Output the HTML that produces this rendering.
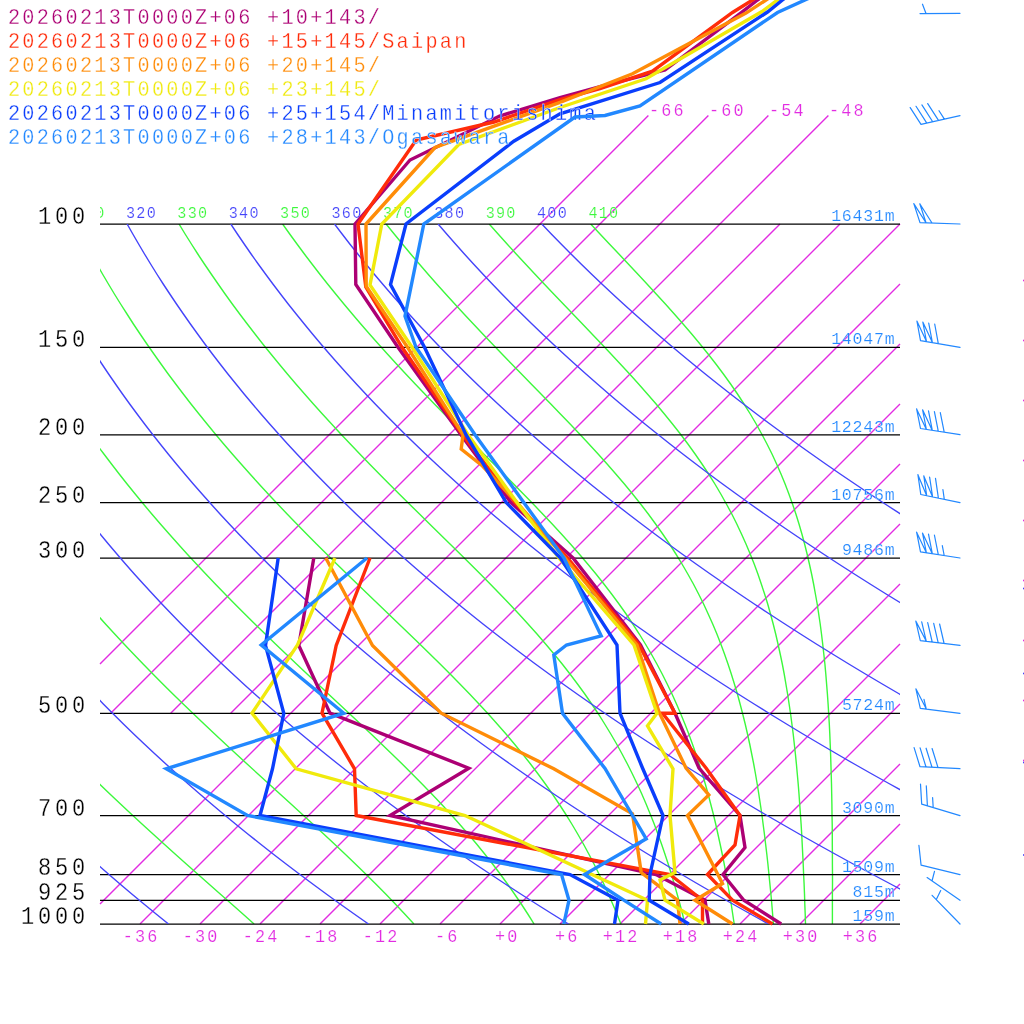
<!DOCTYPE html><html><head><meta charset="utf-8"><title>Skew-T</title>
<style>html,body{margin:0;padding:0;background:#fff}svg{display:block}text{font-family:"Liberation Mono",monospace;stroke:#fff;stroke-width:.3px}text.s{stroke-width:.18px}</style></head><body>
<svg width="1024" height="1024" viewBox="0 0 1024 1024" style="will-change:transform">
<rect width="1024" height="1024" fill="#fff"/>
<defs><clipPath id="box"><rect x="100" y="224" width="800" height="700"/></clipPath><clipPath id="boxl"><rect x="100" y="0" width="800" height="924"/></clipPath></defs>
<path d="M100.0 664.0L648.4 115.6M110.7 713.3L708.4 115.6M170.7 713.3L768.4 115.6M230.7 713.3L828.4 115.6M100.0 904.0L780.0 224.0M140.0 924.0L840.0 224.0M200.0 924.0L900.0 224.0M260.0 924.0L900.0 284.0M320.0 924.0L900.0 344.0M380.0 924.0L900.0 404.0M440.0 924.0L900.0 464.0M500.0 924.0L900.0 524.0M560.0 924.0L900.0 584.0M620.0 924.0L900.0 644.0M680.0 924.0L900.0 704.0M740.0 924.0L900.0 764.0M800.0 924.0L900.0 824.0M860.0 924.0L900.0 884.0" stroke="#e22ce2" stroke-width="1.4" fill="none"/>
<g clip-path="url(#box)" fill="none" stroke-width="1.4">
<path d="M-235.7 224.0L-233.5 234.0L-231.1 244.0L-228.7 254.0L-226.1 264.0L-223.4 274.0L-220.6 284.0L-217.7 294.0L-214.6 304.0L-211.5 314.0L-208.2 324.0L-204.7 334.0L-201.2 344.0L-197.5 354.0L-193.7 364.0L-189.7 374.0L-185.7 384.0L-181.5 394.0L-177.1 404.0L-172.7 414.0L-168.1 424.0L-163.3 434.0L-158.4 444.0L-153.4 454.0L-148.2 464.0L-142.9 474.0L-137.5 484.0L-131.9 494.0L-126.1 504.0L-120.2 514.0L-114.2 524.0L-108.0 534.0L-101.6 544.0L-95.1 554.0L-88.5 564.0L-81.6 574.0L-74.7 584.0L-67.5 594.0L-60.2 604.0L-52.8 614.0L-45.2 624.0L-37.4 634.0L-29.4 644.0L-21.3 654.0L-13.0 664.0L-4.6 674.0L4.1 684.0L12.8 694.0L21.8 704.0L30.9 714.0L40.2 724.0L49.7 734.0L59.3 744.0L69.1 754.0L79.1 764.0L89.2 774.0L99.5 784.0L109.9 794.0L120.5 804.0L131.2 814.0L142.0 824.0L153.0 834.0L164.0 844.0L175.1 854.0L186.3 864.0L197.6 874.0L208.9 884.0L220.2 894.0L231.6 904.0L242.9 914.0L254.1 924.0M-132.0 224.0L-128.8 234.0L-125.5 244.0L-122.1 254.0L-118.5 264.0L-114.8 274.0L-110.9 284.0L-107.0 294.0L-102.9 304.0L-98.6 314.0L-94.3 324.0L-89.8 334.0L-85.1 344.0L-80.4 354.0L-75.5 364.0L-70.4 374.0L-65.2 384.0L-59.9 394.0L-54.4 404.0L-48.8 414.0L-43.0 424.0L-37.1 434.0L-31.0 444.0L-24.7 454.0L-18.4 464.0L-11.8 474.0L-5.1 484.0L1.7 494.0L8.7 504.0L15.9 514.0L23.2 524.0L30.7 534.0L38.3 544.0L46.2 554.0L54.1 564.0L62.3 574.0L70.6 584.0L79.1 594.0L87.7 604.0L96.5 614.0L105.5 624.0L114.7 634.0L124.0 644.0L133.5 654.0L143.1 664.0L152.9 674.0L162.8 684.0L172.9 694.0L183.2 704.0L193.6 714.0L204.1 724.0L214.7 734.0L225.4 744.0L236.2 754.0L247.1 764.0L258.0 774.0L269.0 784.0L280.0 794.0L291.0 804.0L301.9 814.0L312.8 824.0L323.7 834.0L334.4 844.0L345.0 854.0L355.4 864.0L365.7 874.0L375.8 884.0L385.7 894.0L395.3 904.0L404.7 914.0L413.9 924.0M-28.4 224.0L-24.2 234.0L-19.9 244.0L-15.4 254.0L-10.8 264.0L-6.1 274.0L-1.3 284.0L3.7 294.0L8.9 304.0L14.2 314.0L19.6 324.0L25.2 334.0L30.9 344.0L36.7 354.0L42.8 364.0L48.9 374.0L55.3 384.0L61.7 394.0L68.4 404.0L75.1 414.0L82.1 424.0L89.2 434.0L96.4 444.0L103.9 454.0L111.5 464.0L119.2 474.0L127.1 484.0L135.2 494.0L143.4 504.0L151.8 514.0L160.4 524.0L169.2 534.0L178.1 544.0L187.1 554.0L196.4 564.0L205.8 574.0L215.3 584.0L225.0 594.0L234.8 604.0L244.8 614.0L254.9 624.0L265.2 634.0L275.5 644.0L286.0 654.0L296.5 664.0L307.1 674.0L317.8 684.0L328.4 694.0L339.1 704.0L349.8 714.0L360.5 724.0L371.1 734.0L381.5 744.0L391.9 754.0L402.2 764.0L412.2 774.0L422.1 784.0L431.8 794.0L441.3 804.0L450.5 814.0L459.4 824.0L468.1 834.0L476.6 844.0L484.7 854.0L492.6 864.0L500.2 874.0L507.5 884.0L514.5 894.0L521.3 904.0L527.8 914.0L534.1 924.0M75.3 224.0L80.5 234.0L85.8 244.0L91.2 254.0L96.8 264.0L102.5 274.0L108.4 284.0L114.4 294.0L120.6 304.0L127.0 314.0L133.4 324.0L140.1 334.0L146.9 344.0L153.9 354.0L161.0 364.0L168.2 374.0L175.7 384.0L183.3 394.0L191.0 404.0L199.0 414.0L207.1 424.0L215.3 434.0L223.7 444.0L232.3 454.0L241.1 464.0L250.0 474.0L259.0 484.0L268.2 494.0L277.6 504.0L287.1 514.0L296.8 524.0L306.6 534.0L316.5 544.0L326.6 554.0L336.7 564.0L347.0 574.0L357.3 584.0L367.7 594.0L378.1 604.0L388.5 614.0L398.9 624.0L409.3 634.0L419.7 644.0L429.9 654.0L440.1 664.0L450.1 674.0L459.9 684.0L469.6 694.0L479.0 704.0L488.3 714.0L497.2 724.0L506.0 734.0L514.4 744.0L522.6 754.0L530.5 764.0L538.1 774.0L545.4 784.0L552.4 794.0L559.1 804.0L565.6 814.0L571.8 824.0L577.7 834.0L583.4 844.0L588.8 854.0L594.0 864.0L599.0 874.0L603.8 884.0L608.3 894.0L612.7 904.0L616.9 914.0L620.9 924.0M179.0 224.0L185.1 234.0L191.4 244.0L197.8 254.0L204.4 264.0L211.2 274.0L218.1 284.0L225.1 294.0L232.3 304.0L239.7 314.0L247.3 324.0L255.0 334.0L262.8 344.0L270.9 354.0L279.1 364.0L287.4 374.0L295.9 384.0L304.6 394.0L313.4 404.0L322.4 414.0L331.6 424.0L340.8 434.0L350.3 444.0L359.8 454.0L369.5 464.0L379.3 474.0L389.2 484.0L399.2 494.0L409.3 504.0L419.5 514.0L429.6 524.0L439.8 534.0L450.0 544.0L460.2 554.0L470.3 564.0L480.3 574.0L490.2 584.0L499.9 594.0L509.5 604.0L518.9 614.0L528.0 624.0L537.0 634.0L545.6 644.0L554.0 654.0L562.2 664.0L570.0 674.0L577.5 684.0L584.8 694.0L591.7 704.0L598.4 714.0L604.7 724.0L610.8 734.0L616.6 744.0L622.1 754.0L627.4 764.0L632.4 774.0L637.2 784.0L641.8 794.0L646.1 804.0L650.2 814.0L654.2 824.0L657.9 834.0L661.5 844.0L664.9 854.0L668.2 864.0L671.3 874.0L674.3 884.0L677.1 894.0L679.9 904.0L682.5 914.0L685.0 924.0M282.6 224.0L289.7 234.0L297.0 244.0L304.4 254.0L312.0 264.0L319.7 274.0L327.6 284.0L335.7 294.0L343.9 304.0L352.3 314.0L360.8 324.0L369.5 334.0L378.4 344.0L387.4 354.0L396.5 364.0L405.8 374.0L415.2 384.0L424.8 394.0L434.4 404.0L444.2 414.0L454.0 424.0L463.9 434.0L473.8 444.0L483.8 454.0L493.8 464.0L503.7 474.0L513.6 484.0L523.4 494.0L533.2 504.0L542.7 514.0L552.2 524.0L561.4 534.0L570.4 544.0L579.2 554.0L587.7 564.0L596.0 574.0L603.9 584.0L611.6 594.0L619.0 604.0L626.1 614.0L632.8 624.0L639.3 634.0L645.4 644.0L651.3 654.0L656.9 664.0L662.2 674.0L667.2 684.0L672.0 694.0L676.5 704.0L680.8 714.0L684.9 724.0L688.8 734.0L692.4 744.0L695.9 754.0L699.2 764.0L702.3 774.0L705.3 784.0L708.1 794.0L710.7 804.0L713.3 814.0L715.7 824.0L717.9 834.0L720.1 844.0L722.2 854.0L724.2 864.0L726.0 874.0L727.8 884.0L729.5 894.0L731.2 904.0L732.7 914.0L734.2 924.0M386.1 224.0L394.2 234.0L402.4 244.0L410.7 254.0L419.3 264.0L427.9 274.0L436.7 284.0L445.7 294.0L454.8 304.0L464.0 314.0L473.4 324.0L482.8 334.0L492.4 344.0L502.0 354.0L511.7 364.0L521.5 374.0L531.2 384.0L541.0 394.0L550.8 404.0L560.4 414.0L570.1 424.0L579.6 434.0L588.9 444.0L598.1 454.0L607.1 464.0L615.8 474.0L624.4 484.0L632.6 494.0L640.6 504.0L648.3 514.0L655.6 524.0L662.7 534.0L669.5 544.0L675.9 554.0L682.0 564.0L687.8 574.0L693.4 584.0L698.6 594.0L703.6 604.0L708.2 614.0L712.7 624.0L716.9 634.0L720.8 644.0L724.5 654.0L728.0 664.0L731.3 674.0L734.4 684.0L737.4 694.0L740.1 704.0L742.7 714.0L745.2 724.0L747.5 734.0L749.7 744.0L751.7 754.0L753.7 764.0L755.5 774.0L757.2 784.0L758.8 794.0L760.3 804.0L761.8 814.0L763.1 824.0L764.4 834.0L765.6 844.0L766.8 854.0L767.9 864.0L768.9 874.0L769.9 884.0L770.9 894.0L771.8 904.0L772.6 914.0L773.4 924.0M489.2 224.0L498.1 234.0L507.1 244.0L516.2 254.0L525.5 264.0L534.8 274.0L544.2 284.0L553.7 294.0L563.3 304.0L572.9 314.0L582.5 324.0L592.0 334.0L601.6 344.0L611.0 354.0L620.3 364.0L629.6 374.0L638.6 384.0L647.4 394.0L656.1 404.0L664.4 414.0L672.5 424.0L680.4 434.0L687.9 444.0L695.1 454.0L702.0 464.0L708.6 474.0L714.9 484.0L720.8 494.0L726.4 504.0L731.8 514.0L736.8 524.0L741.5 534.0L746.0 544.0L750.2 554.0L754.2 564.0L757.9 574.0L761.3 584.0L764.6 594.0L767.7 604.0L770.5 614.0L773.2 624.0L775.7 634.0L778.0 644.0L780.2 654.0L782.3 664.0L784.2 674.0L785.9 684.0L787.6 694.0L789.1 704.0L790.6 714.0L791.9 724.0L793.2 734.0L794.3 744.0L795.4 754.0L796.4 764.0L797.3 774.0L798.2 784.0L799.0 794.0L799.7 804.0L800.4 814.0L801.1 824.0L801.7 834.0L802.2 844.0L802.7 854.0L803.2 864.0L803.6 874.0L804.1 884.0L804.5 894.0L804.8 904.0L805.2 914.0L805.5 924.0M590.7 224.0L600.0 234.0L609.4 244.0L618.9 254.0L628.3 264.0L637.7 274.0L647.0 284.0L656.2 294.0L665.4 304.0L674.3 314.0L683.1 324.0L691.7 334.0L700.0 344.0L708.1 354.0L715.9 364.0L723.4 374.0L730.6 384.0L737.5 394.0L744.0 404.0L750.3 414.0L756.2 424.0L761.7 434.0L767.0 444.0L772.0 454.0L776.6 464.0L781.0 474.0L785.1 484.0L788.9 494.0L792.5 504.0L795.9 514.0L799.0 524.0L801.9 534.0L804.6 544.0L807.1 554.0L809.4 564.0L811.6 574.0L813.6 584.0L815.4 594.0L817.2 604.0L818.7 614.0L820.2 624.0L821.5 634.0L822.7 644.0L823.8 654.0L824.9 664.0L825.8 674.0L826.6 684.0L827.4 694.0L828.1 704.0L828.7 714.0L829.3 724.0L829.8 734.0L830.2 744.0L830.6 754.0L830.9 764.0L831.2 774.0L831.5 784.0L831.7 794.0L831.9 804.0L832.0 814.0L832.2 824.0L832.3 834.0L832.3 844.0L832.4 854.0L832.4 864.0L832.5 874.0L832.5 884.0L832.4 894.0L832.4 904.0L832.4 914.0L832.4 924.0" stroke="#3cf83c"/>
</g>
<line x1="100" x2="900" y1="224.07" y2="224.07" stroke="#000" stroke-width="1.3"/>
<line x1="100" x2="900" y1="347.33" y2="347.33" stroke="#000" stroke-width="1.3"/>
<line x1="100" x2="900" y1="434.79" y2="434.79" stroke="#000" stroke-width="1.3"/>
<line x1="100" x2="900" y1="502.63" y2="502.63" stroke="#000" stroke-width="1.3"/>
<line x1="100" x2="900" y1="558.05" y2="558.05" stroke="#000" stroke-width="1.3"/>
<line x1="100" x2="900" y1="713.35" y2="713.35" stroke="#000" stroke-width="1.3"/>
<line x1="100" x2="900" y1="815.64" y2="815.64" stroke="#000" stroke-width="1.3"/>
<line x1="100" x2="900" y1="874.66" y2="874.66" stroke="#000" stroke-width="1.3"/>
<line x1="100" x2="900" y1="900.37" y2="900.37" stroke="#000" stroke-width="1.3"/>
<line x1="100" x2="900" y1="924.07" y2="924.07" stroke="#000" stroke-width="1.3"/>
<g clip-path="url(#box)" fill="none" stroke-width="1.4">
<path d="M-287.5 224.0L-285.8 234.0L-283.9 244.0L-282.0 254.0L-279.9 264.0L-277.7 274.0L-275.4 284.0L-273.0 294.0L-270.5 304.0L-267.9 314.0L-265.1 324.0L-262.2 334.0L-259.2 344.0L-256.1 354.0L-252.8 364.0L-249.4 374.0L-245.9 384.0L-242.3 394.0L-238.5 404.0L-234.6 414.0L-230.6 424.0L-226.4 434.0L-222.1 444.0L-217.7 454.0L-213.2 464.0L-208.5 474.0L-203.6 484.0L-198.6 494.0L-193.5 504.0L-188.3 514.0L-182.9 524.0L-177.3 534.0L-171.6 544.0L-165.8 554.0L-159.8 564.0L-153.6 574.0L-147.3 584.0L-140.9 594.0L-134.3 604.0L-127.5 614.0L-120.6 624.0L-113.5 634.0L-106.3 644.0L-98.9 654.0L-91.3 664.0L-83.6 674.0L-75.7 684.0L-67.6 694.0L-59.3 704.0L-50.9 714.0L-42.3 724.0L-33.6 734.0L-24.6 744.0L-15.5 754.0L-6.2 764.0L3.3 774.0L12.9 784.0L22.8 794.0L32.8 804.0L43.0 814.0L53.4 824.0L64.1 834.0L74.9 844.0L85.9 854.0L97.1 864.0L108.4 874.0L120.0 884.0L131.8 894.0L143.9 904.0L156.1 914.0L168.5 924.0M-183.9 224.0L-181.2 234.0L-178.3 244.0L-175.4 254.0L-172.3 264.0L-169.1 274.0L-165.8 284.0L-162.3 294.0L-158.8 304.0L-155.0 314.0L-151.2 324.0L-147.3 334.0L-143.2 344.0L-138.9 354.0L-134.6 364.0L-130.1 374.0L-125.4 384.0L-120.7 394.0L-115.8 404.0L-110.7 414.0L-105.5 424.0L-100.2 434.0L-94.7 444.0L-89.1 454.0L-83.3 464.0L-77.4 474.0L-71.3 484.0L-65.1 494.0L-58.7 504.0L-52.2 514.0L-45.5 524.0L-38.6 534.0L-31.6 544.0L-24.5 554.0L-17.1 564.0L-9.6 574.0L-2.0 584.0L5.8 594.0L13.8 604.0L22.0 614.0L30.3 624.0L38.8 634.0L47.5 644.0L56.4 654.0L65.4 664.0L74.6 674.0L84.0 684.0L93.6 694.0L103.3 704.0L113.3 714.0L123.4 724.0L133.7 734.0L144.3 744.0L155.0 754.0L165.9 764.0L177.0 774.0L188.3 784.0L199.8 794.0L211.5 804.0L223.4 814.0L235.5 824.0L247.8 834.0L260.4 844.0L273.1 854.0L286.1 864.0L299.3 874.0L312.7 884.0L326.3 894.0L340.1 904.0L354.2 914.0L368.5 924.0M-80.2 224.0L-76.5 234.0L-72.7 244.0L-68.7 254.0L-64.7 264.0L-60.4 274.0L-56.1 284.0L-51.6 294.0L-47.0 304.0L-42.2 314.0L-37.3 324.0L-32.3 334.0L-27.1 344.0L-21.8 354.0L-16.3 364.0L-10.7 374.0L-5.0 384.0L0.9 394.0L7.0 404.0L13.2 414.0L19.6 424.0L26.1 434.0L32.7 444.0L39.6 454.0L46.6 464.0L53.7 474.0L61.0 484.0L68.5 494.0L76.1 504.0L83.9 514.0L91.9 524.0L100.1 534.0L108.4 544.0L116.9 554.0L125.5 564.0L134.3 574.0L143.4 584.0L152.6 594.0L161.9 604.0L171.5 614.0L181.2 624.0L191.2 634.0L201.3 644.0L211.6 654.0L222.1 664.0L232.8 674.0L243.6 684.0L254.7 694.0L266.0 704.0L277.5 714.0L289.2 724.0L301.1 734.0L313.2 744.0L325.5 754.0L338.0 764.0L350.7 774.0L363.7 784.0L376.8 794.0L390.2 804.0L403.8 814.0L417.6 824.0L431.6 834.0L445.9 844.0L460.4 854.0L475.1 864.0L490.1 874.0L505.3 884.0L520.7 894.0L536.4 904.0L552.3 914.0L568.5 924.0M23.5 224.0L28.1 234.0L32.9 244.0L37.9 254.0L43.0 264.0L48.2 274.0L53.6 284.0L59.1 294.0L64.7 304.0L70.6 314.0L76.5 324.0L82.6 334.0L88.9 344.0L95.3 354.0L101.9 364.0L108.6 374.0L115.5 384.0L122.5 394.0L129.7 404.0L137.1 414.0L144.6 424.0L152.3 434.0L160.2 444.0L168.2 454.0L176.4 464.0L184.8 474.0L193.3 484.0L202.1 494.0L211.0 504.0L220.0 514.0L229.3 524.0L238.7 534.0L248.4 544.0L258.2 554.0L268.2 564.0L278.3 574.0L288.7 584.0L299.3 594.0L310.0 604.0L321.0 614.0L332.1 624.0L343.5 634.0L355.0 644.0L366.8 654.0L378.8 664.0L390.9 674.0L403.3 684.0L415.9 694.0L428.7 704.0L441.7 714.0L454.9 724.0L468.4 734.0L482.1 744.0L496.0 754.0L510.1 764.0L524.4 774.0L539.0 784.0L553.8 794.0L568.9 804.0L584.2 814.0L599.7 824.0L615.4 834.0L631.4 844.0L647.7 854.0L664.2 864.0L680.9 874.0L697.9 884.0L715.2 894.0L732.7 904.0L750.5 914.0L768.5 924.0M127.1 224.0L132.8 234.0L138.6 244.0L144.5 254.0L150.6 264.0L156.8 274.0L163.2 284.0L169.8 294.0L176.5 304.0L183.4 314.0L190.4 324.0L197.6 334.0L204.9 344.0L212.4 354.0L220.1 364.0L227.9 374.0L236.0 384.0L244.1 394.0L252.5 404.0L261.0 414.0L269.7 424.0L278.6 434.0L287.6 444.0L296.9 454.0L306.3 464.0L315.9 474.0L325.7 484.0L335.6 494.0L345.8 504.0L356.1 514.0L366.7 524.0L377.4 534.0L388.3 544.0L399.5 554.0L410.8 564.0L422.3 574.0L434.1 584.0L446.0 594.0L458.1 604.0L470.5 614.0L483.0 624.0L495.8 634.0L508.8 644.0L522.0 654.0L535.4 664.0L549.1 674.0L563.0 684.0L577.1 694.0L591.4 704.0L605.9 714.0L620.7 724.0L635.7 734.0L651.0 744.0L666.5 754.0L682.2 764.0L698.2 774.0L714.4 784.0L730.9 794.0L747.6 804.0L764.5 814.0L781.8 824.0L799.2 834.0L817.0 844.0L835.0 854.0L853.2 864.0L871.8 874.0L890.6 884.0L909.6 894.0L929.0 904.0L948.6 914.0L968.5 924.0M230.8 224.0L237.4 234.0L244.2 244.0L251.1 254.0L258.2 264.0L265.5 274.0L272.9 284.0L280.5 294.0L288.2 304.0L296.2 314.0L304.3 324.0L312.5 334.0L320.9 344.0L329.5 354.0L338.3 364.0L347.3 374.0L356.4 384.0L365.7 394.0L375.2 404.0L384.9 414.0L394.8 424.0L404.8 434.0L415.1 444.0L425.5 454.0L436.2 464.0L447.0 474.0L458.0 484.0L469.2 494.0L480.6 504.0L492.2 514.0L504.1 524.0L516.1 534.0L528.3 544.0L540.8 554.0L553.4 564.0L566.3 574.0L579.4 584.0L592.7 594.0L606.2 604.0L620.0 614.0L634.0 624.0L648.2 634.0L662.6 644.0L677.2 654.0L692.1 664.0L707.2 674.0L722.6 684.0L738.2 694.0L754.1 704.0L770.1 714.0L786.5 724.0L803.0 734.0L819.9 744.0L837.0 754.0L854.3 764.0L871.9 774.0L889.8 784.0L907.9 794.0L926.3 804.0L944.9 814.0L963.8 824.0L983.0 834.0L1002.5 844.0L1022.2 854.0L1042.3 864.0L1062.6 874.0L1083.2 884.0L1104.1 894.0L1125.3 904.0L1146.7 914.0L1168.5 924.0M334.5 224.0L342.1 234.0L349.8 244.0L357.8 254.0L365.9 264.0L374.1 274.0L382.6 284.0L391.2 294.0L400.0 304.0L409.0 314.0L418.1 324.0L427.5 334.0L437.0 344.0L446.7 354.0L456.6 364.0L466.6 374.0L476.9 384.0L487.3 394.0L498.0 404.0L508.8 414.0L519.9 424.0L531.1 434.0L542.5 444.0L554.2 454.0L566.0 464.0L578.1 474.0L590.3 484.0L602.8 494.0L615.5 504.0L628.4 514.0L641.5 524.0L654.8 534.0L668.3 544.0L682.1 554.0L696.1 564.0L710.3 574.0L724.8 584.0L739.4 594.0L754.3 604.0L769.5 614.0L784.9 624.0L800.5 634.0L816.3 644.0L832.5 654.0L848.8 664.0L865.4 674.0L882.3 684.0L899.4 694.0L916.7 704.0L934.4 714.0L952.2 724.0L970.4 734.0L988.8 744.0L1007.5 754.0L1026.4 764.0L1045.6 774.0L1065.1 784.0L1084.9 794.0L1104.9 804.0L1125.3 814.0L1145.9 824.0L1166.8 834.0L1188.0 844.0L1209.5 854.0L1231.3 864.0L1253.4 874.0L1275.8 884.0L1298.5 894.0L1321.5 904.0L1344.9 914.0L1368.5 924.0M438.1 224.0L446.7 234.0L455.5 244.0L464.4 254.0L473.5 264.0L482.8 274.0L492.3 284.0L501.9 294.0L511.7 304.0L521.8 314.0L532.0 324.0L542.4 334.0L553.0 344.0L563.8 354.0L574.8 364.0L586.0 374.0L597.4 384.0L608.9 394.0L620.7 404.0L632.7 414.0L644.9 424.0L657.4 434.0L670.0 444.0L682.8 454.0L695.9 464.0L709.1 474.0L722.6 484.0L736.4 494.0L750.3 504.0L764.5 514.0L778.8 524.0L793.5 534.0L808.3 544.0L823.4 554.0L838.7 564.0L854.3 574.0L870.1 584.0L886.1 594.0L902.4 604.0L919.0 614.0L935.8 624.0L952.8 634.0L970.1 644.0L987.7 654.0L1005.5 664.0L1023.6 674.0L1041.9 684.0L1060.5 694.0L1079.4 704.0L1098.6 714.0L1118.0 724.0L1137.7 734.0L1157.7 744.0L1178.0 754.0L1198.5 764.0L1219.4 774.0L1240.5 784.0L1261.9 794.0L1283.6 804.0L1305.7 814.0L1328.0 824.0L1350.6 834.0L1373.6 844.0L1396.8 854.0L1420.4 864.0L1444.3 874.0L1468.4 884.0L1493.0 894.0L1517.8 904.0L1543.0 914.0L1568.5 924.0M541.8 224.0L551.3 234.0L561.1 244.0L571.0 254.0L581.1 264.0L591.4 274.0L601.9 284.0L612.6 294.0L623.5 304.0L634.6 314.0L645.9 324.0L657.3 334.0L669.0 344.0L680.9 354.0L693.0 364.0L705.3 374.0L717.8 384.0L730.5 394.0L743.5 404.0L756.6 414.0L770.0 424.0L783.6 434.0L797.4 444.0L811.5 454.0L825.7 464.0L840.2 474.0L855.0 484.0L869.9 494.0L885.1 504.0L900.6 514.0L916.2 524.0L932.1 534.0L948.3 544.0L964.7 554.0L981.4 564.0L998.3 574.0L1015.4 584.0L1032.9 594.0L1050.5 604.0L1068.5 614.0L1086.7 624.0L1105.2 634.0L1123.9 644.0L1142.9 654.0L1162.2 664.0L1181.7 674.0L1201.6 684.0L1221.7 694.0L1242.1 704.0L1262.8 714.0L1283.8 724.0L1305.0 734.0L1326.6 744.0L1348.5 754.0L1370.6 764.0L1393.1 774.0L1415.9 784.0L1438.9 794.0L1462.3 804.0L1486.0 814.0L1510.1 824.0L1534.4 834.0L1559.1 844.0L1584.1 854.0L1609.4 864.0L1635.1 874.0L1661.1 884.0L1687.4 894.0L1714.1 904.0L1741.1 914.0L1768.5 924.0" stroke="#4444fa"/>
</g>
<text transform="translate(38.10 224.10) scale(0.830 1)" font-size="26.52" letter-spacing="4.57" fill="#000" xml:space="preserve">100</text>
<text transform="translate(38.10 347.10) scale(0.830 1)" font-size="26.52" letter-spacing="4.57" fill="#000" xml:space="preserve">150</text>
<text transform="translate(38.10 435.10) scale(0.830 1)" font-size="26.52" letter-spacing="4.57" fill="#000" xml:space="preserve">200</text>
<text transform="translate(38.10 503.10) scale(0.830 1)" font-size="26.52" letter-spacing="4.57" fill="#000" xml:space="preserve">250</text>
<text transform="translate(38.10 558.10) scale(0.830 1)" font-size="26.52" letter-spacing="4.57" fill="#000" xml:space="preserve">300</text>
<text transform="translate(38.10 713.10) scale(0.830 1)" font-size="26.52" letter-spacing="4.57" fill="#000" xml:space="preserve">500</text>
<text transform="translate(38.10 816.10) scale(0.830 1)" font-size="26.52" letter-spacing="4.57" fill="#000" xml:space="preserve">700</text>
<text transform="translate(38.10 875.10) scale(0.830 1)" font-size="26.52" letter-spacing="4.57" fill="#000" xml:space="preserve">850</text>
<text transform="translate(38.10 900.10) scale(0.830 1)" font-size="26.52" letter-spacing="4.57" fill="#000" xml:space="preserve">925</text>
<text transform="translate(21.10 924.10) scale(0.830 1)" font-size="26.52" letter-spacing="4.57" fill="#000" xml:space="preserve">1000</text>
<g clip-path="url(#boxl)">
<text class="s" transform="translate(74.59 218.10) scale(0.920 1)" font-size="16.44" letter-spacing="1.38" fill="#3cf83c" xml:space="preserve">310</text>
<text class="s" transform="translate(125.97 218.10) scale(0.920 1)" font-size="16.44" letter-spacing="1.38" fill="#4444fa" xml:space="preserve">320</text>
<text class="s" transform="translate(177.35 218.10) scale(0.920 1)" font-size="16.44" letter-spacing="1.38" fill="#3cf83c" xml:space="preserve">330</text>
<text class="s" transform="translate(228.73 218.10) scale(0.920 1)" font-size="16.44" letter-spacing="1.38" fill="#4444fa" xml:space="preserve">340</text>
<text class="s" transform="translate(280.11 218.10) scale(0.920 1)" font-size="16.44" letter-spacing="1.38" fill="#3cf83c" xml:space="preserve">350</text>
<text class="s" transform="translate(331.50 218.10) scale(0.920 1)" font-size="16.44" letter-spacing="1.38" fill="#4444fa" xml:space="preserve">360</text>
<text class="s" transform="translate(382.88 218.10) scale(0.920 1)" font-size="16.44" letter-spacing="1.38" fill="#3cf83c" xml:space="preserve">370</text>
<text class="s" transform="translate(434.26 218.10) scale(0.920 1)" font-size="16.44" letter-spacing="1.38" fill="#4444fa" xml:space="preserve">380</text>
<text class="s" transform="translate(485.64 218.10) scale(0.920 1)" font-size="16.44" letter-spacing="1.38" fill="#3cf83c" xml:space="preserve">390</text>
<text class="s" transform="translate(537.03 218.10) scale(0.920 1)" font-size="16.44" letter-spacing="1.38" fill="#4444fa" xml:space="preserve">400</text>
<text class="s" transform="translate(588.41 218.10) scale(0.920 1)" font-size="16.44" letter-spacing="1.38" fill="#3cf83c" xml:space="preserve">410</text>
</g>
<text class="s" transform="translate(122.71 942.30) scale(0.900 1)" font-size="18.67" letter-spacing="2.41" fill="#e22ce2" xml:space="preserve">-36</text>
<text class="s" transform="translate(182.71 942.30) scale(0.900 1)" font-size="18.67" letter-spacing="2.41" fill="#e22ce2" xml:space="preserve">-30</text>
<text class="s" transform="translate(242.71 942.30) scale(0.900 1)" font-size="18.67" letter-spacing="2.41" fill="#e22ce2" xml:space="preserve">-24</text>
<text class="s" transform="translate(302.71 942.30) scale(0.900 1)" font-size="18.67" letter-spacing="2.41" fill="#e22ce2" xml:space="preserve">-18</text>
<text class="s" transform="translate(362.71 942.30) scale(0.900 1)" font-size="18.67" letter-spacing="2.41" fill="#e22ce2" xml:space="preserve">-12</text>
<text class="s" transform="translate(422.71 942.30) scale(0.900 1)" font-size="18.67" letter-spacing="2.41" fill="#e22ce2" xml:space="preserve"> -6</text>
<text class="s" transform="translate(482.71 942.30) scale(0.900 1)" font-size="18.67" letter-spacing="2.41" fill="#e22ce2" xml:space="preserve"> +0</text>
<text class="s" transform="translate(542.71 942.30) scale(0.900 1)" font-size="18.67" letter-spacing="2.41" fill="#e22ce2" xml:space="preserve"> +6</text>
<text class="s" transform="translate(602.71 942.30) scale(0.900 1)" font-size="18.67" letter-spacing="2.41" fill="#e22ce2" xml:space="preserve">+12</text>
<text class="s" transform="translate(662.71 942.30) scale(0.900 1)" font-size="18.67" letter-spacing="2.41" fill="#e22ce2" xml:space="preserve">+18</text>
<text class="s" transform="translate(722.71 942.30) scale(0.900 1)" font-size="18.67" letter-spacing="2.41" fill="#e22ce2" xml:space="preserve">+24</text>
<text class="s" transform="translate(782.71 942.30) scale(0.900 1)" font-size="18.67" letter-spacing="2.41" fill="#e22ce2" xml:space="preserve">+30</text>
<text class="s" transform="translate(842.71 942.30) scale(0.900 1)" font-size="18.67" letter-spacing="2.41" fill="#e22ce2" xml:space="preserve">+36</text>
<text class="s" transform="translate(648.92 116.30) scale(0.900 1)" font-size="18.67" letter-spacing="2.41" fill="#e22ce2" xml:space="preserve">-66</text>
<text class="s" transform="translate(708.92 116.30) scale(0.900 1)" font-size="18.67" letter-spacing="2.41" fill="#e22ce2" xml:space="preserve">-60</text>
<text class="s" transform="translate(768.92 116.30) scale(0.900 1)" font-size="18.67" letter-spacing="2.41" fill="#e22ce2" xml:space="preserve">-54</text>
<text class="s" transform="translate(828.92 116.30) scale(0.900 1)" font-size="18.67" letter-spacing="2.41" fill="#e22ce2" xml:space="preserve">-48</text>
<path d="M786.0 -20.0L757.5 0.0L741.0 12.8L665.0 70.0L600.0 86.6L560.0 97.7L499.6 116.0L410.0 160.0L355.0 224.0L355.8 284.5L398.0 347.3L461.0 434.7L511.0 502.6L573.0 558.0L640.5 645.0L675.0 713.2L699.0 768.0L740.0 815.5L745.0 847.5L723.0 874.5L743.8 900.2L781.2 924.0" stroke="#ac0074" stroke-width="3.4" fill="none" stroke-linejoin="miter"/>
<path d="M313.8 558.0L298.8 645.5L330.0 713.2L468.8 768.2L390.0 815.5L656.0 874.5L705.0 900.2L708.8 924.0" stroke="#ac0074" stroke-width="3.4" fill="none" stroke-linejoin="miter"/>
<text transform="translate(7.93 23.80) scale(0.910 1)" font-size="22.22" letter-spacing="2.49" fill="#ac0074" xml:space="preserve">20260213T0000Z+06 +10+143/</text>
<path d="M784.0 -20.0L752.5 0.0L732.5 12.5L652.5 71.2L600.0 88.5L560.0 99.7L494.0 122.0L416.2 140.0L358.0 224.0L365.8 287.0L402.0 347.3L462.5 434.7L515.0 502.6L567.5 558.0L638.8 644.5L675.0 713.2L662.5 713.2L706.0 768.0L740.0 815.5L735.0 845.0L707.5 874.5L732.5 900.2L772.5 924.0" stroke="#ff2c0a" stroke-width="3.4" fill="none" stroke-linejoin="miter"/>
<path d="M370.0 558.0L336.2 645.5L322.0 713.2L354.5 768.8L356.2 815.5L670.0 874.5L702.5 900.2L702.5 924.0" stroke="#ff2c0a" stroke-width="3.4" fill="none" stroke-linejoin="miter"/>
<text transform="translate(7.93 47.88) scale(0.910 1)" font-size="22.22" letter-spacing="2.49" fill="#ff2c0a" xml:space="preserve">20260213T0000Z+06 +15+145/Saipan</text>
<path d="M796.0 -20.0L766.0 0.0L746.0 13.1L632.5 73.8L560.0 102.3L435.0 147.5L366.0 224.0L366.2 286.2L407.5 347.3L463.0 434.7L461.2 449.0L482.5 466.0L517.0 502.6L565.0 558.0L637.0 645.0L659.5 713.2L686.0 768.0L708.8 795.0L687.5 815.5L722.5 883.5L695.0 900.2L732.5 924.0" stroke="#ff8c08" stroke-width="3.4" fill="none" stroke-linejoin="miter"/>
<path d="M325.8 558.0L372.5 645.5L441.2 713.2L553.8 768.8L632.5 813.8L641.2 872.5L677.5 900.2L680.0 924.0" stroke="#ff8c08" stroke-width="3.4" fill="none" stroke-linejoin="miter"/>
<text transform="translate(7.93 71.96) scale(0.910 1)" font-size="22.22" letter-spacing="2.49" fill="#ff8c08" xml:space="preserve">20260213T0000Z+06 +20+145/</text>
<path d="M805.0 -20.0L777.5 0.0L762.0 11.5L646.0 78.8L560.0 107.5L458.8 144.5L381.8 224.0L370.0 285.0L412.0 347.3L468.0 434.7L517.0 502.6L559.0 558.0L634.0 645.0L657.0 713.2L647.5 725.8L673.0 768.8L670.0 815.5L675.0 872.5L660.0 880.0L665.0 900.2L703.8 924.0" stroke="#f0ea0c" stroke-width="3.4" fill="none" stroke-linejoin="miter"/>
<path d="M335.0 558.0L297.5 645.0L252.0 713.2L296.2 768.8L465.0 815.5L647.5 900.2L645.5 924.0" stroke="#f0ea0c" stroke-width="3.4" fill="none" stroke-linejoin="miter"/>
<text transform="translate(7.93 96.04) scale(0.910 1)" font-size="22.22" letter-spacing="2.49" fill="#f0ea0c" xml:space="preserve">20260213T0000Z+06 +23+145/</text>
<path d="M808.0 -20.0L782.5 0.0L767.5 12.0L660.0 82.5L560.0 113.8L513.8 141.2L406.0 224.0L390.5 284.5L424.5 347.3L466.0 434.7L506.2 502.5L560.5 558.0L617.0 645.0L620.0 713.2L642.5 768.0L663.0 815.5L650.0 874.5L649.2 900.2L688.8 924.0" stroke="#0a3efc" stroke-width="3.4" fill="none" stroke-linejoin="miter"/>
<path d="M278.2 558.0L265.5 645.5L283.8 713.2L272.5 768.8L260.0 815.5L570.0 874.5L618.0 900.2L614.5 924.0" stroke="#0a3efc" stroke-width="3.4" fill="none" stroke-linejoin="miter"/>
<text transform="translate(7.93 120.12) scale(0.910 1)" font-size="22.22" letter-spacing="2.49" fill="#0a3efc" xml:space="preserve">20260213T0000Z+06 +25+154/Minamitorishima</text>
<path d="M849.0 -20.0L805.0 0.0L777.5 12.5L640.0 106.0L605.0 115.5L575.0 117.0L423.8 224.0L405.0 316.2L416.0 347.3L475.0 434.7L523.8 502.6L564.0 558.0L601.2 635.8L566.5 645.0L553.8 655.0L562.5 713.2L605.0 768.5L632.5 815.5L646.2 838.8L584.5 874.5L623.8 900.2L661.2 924.0" stroke="#2288ff" stroke-width="3.4" fill="none" stroke-linejoin="miter"/>
<path d="M367.0 558.0L261.2 645.0L343.8 713.2L166.2 768.8L247.5 815.5L561.5 874.5L569.0 900.2L563.8 924.0" stroke="#2288ff" stroke-width="3.4" fill="none" stroke-linejoin="miter"/>
<text transform="translate(7.93 144.20) scale(0.910 1)" font-size="22.22" letter-spacing="2.49" fill="#2288ff" xml:space="preserve">20260213T0000Z+06 +28+143/Ogasawara</text>
<path d="M960.0 13.3L920.0 13.6M926.0 13.5L922.5 4.2" stroke="#2288ff" stroke-width="1.2" fill="none" stroke-linecap="round" stroke-linejoin="round"/>
<path d="M960.0 115.6L921.0 124.4M921.0 124.4L910.2 107.6M926.8 123.1L916.0 106.3M932.7 121.8L921.9 104.9M938.5 120.4L927.7 103.6M944.4 119.1L939.0 110.7" stroke="#2288ff" stroke-width="1.2" fill="none" stroke-linecap="round" stroke-linejoin="round"/>
<path d="M960.0 224.0L920.0 222.6M920.0 222.6L913.8 203.6L926.0 222.8M926.0 222.8L919.8 203.8L932.0 223.0" stroke="#2288ff" stroke-width="1.2" fill="none" stroke-linecap="round" stroke-linejoin="round"/>
<path d="M960.0 347.3L920.5 340.7M920.5 340.7L916.9 321.0L926.5 341.6M926.5 341.6L922.8 322.0L932.4 342.6M932.4 342.6L928.7 323.0M938.3 343.6L934.7 324.0" stroke="#2288ff" stroke-width="1.2" fill="none" stroke-linecap="round" stroke-linejoin="round"/>
<path d="M960.0 434.7L920.5 428.5M920.5 428.5L916.6 408.9L926.4 429.5M926.4 429.5L922.6 409.8L932.3 430.4M932.3 430.4L928.5 410.8M938.3 431.3L934.4 411.7M944.2 432.2L940.3 412.6" stroke="#2288ff" stroke-width="1.2" fill="none" stroke-linecap="round" stroke-linejoin="round"/>
<path d="M960.0 502.6L920.8 494.5M920.8 494.5L917.9 474.7L926.7 495.7M926.7 495.7L923.8 475.9L932.6 496.9M932.6 496.9L929.6 477.1M938.4 498.1L935.5 478.4M944.3 499.3L942.9 489.5" stroke="#2288ff" stroke-width="1.2" fill="none" stroke-linecap="round" stroke-linejoin="round"/>
<path d="M960.0 558.0L920.5 551.8M920.5 551.8L916.6 532.2L926.4 552.8M926.4 552.8L922.5 533.1L932.3 553.7M932.3 553.7L928.5 534.1M938.3 554.6L934.4 535.0M944.2 555.5L942.3 545.7" stroke="#2288ff" stroke-width="1.2" fill="none" stroke-linecap="round" stroke-linejoin="round"/>
<path d="M960.0 645.4L920.3 640.6M920.3 640.6L915.8 621.1L926.3 641.3M926.3 641.3L921.7 621.8M932.2 642.0L927.7 622.6M938.2 642.8L933.7 623.3M944.1 643.5L939.6 624.0" stroke="#2288ff" stroke-width="1.2" fill="none" stroke-linecap="round" stroke-linejoin="round"/>
<path d="M960.0 713.3L920.3 708.3M920.3 708.3L915.9 688.8L926.3 709.1M926.3 709.1L924.0 699.3" stroke="#2288ff" stroke-width="1.2" fill="none" stroke-linecap="round" stroke-linejoin="round"/>
<path d="M960.0 768.7L920.0 766.7M920.0 766.7L914.1 747.6M926.0 767.0L920.1 747.9M932.0 767.3L926.1 748.2M938.0 767.6L932.1 748.5" stroke="#2288ff" stroke-width="1.2" fill="none" stroke-linecap="round" stroke-linejoin="round"/>
<path d="M960.0 815.6L921.7 804.1M921.7 804.1L920.5 784.1M927.4 805.8L926.3 785.8M933.2 807.5L932.6 797.6" stroke="#2288ff" stroke-width="1.2" fill="none" stroke-linecap="round" stroke-linejoin="round"/>
<path d="M960.0 874.6L921.1 865.2M921.1 865.2L918.9 845.3" stroke="#2288ff" stroke-width="1.2" fill="none" stroke-linecap="round" stroke-linejoin="round"/>
<path d="M960.0 900.3L927.1 877.6M932.0 881.0L934.5 871.3" stroke="#2288ff" stroke-width="1.2" fill="none" stroke-linecap="round" stroke-linejoin="round"/>
<path d="M960.0 924.0L932.1 895.3M936.3 899.6L940.7 890.6" stroke="#2288ff" stroke-width="1.2" fill="none" stroke-linecap="round" stroke-linejoin="round"/>
<text class="s" transform="translate(831.16 221.10) scale(1.000 1)" font-size="16.59" letter-spacing="0.76" fill="#2288ff" xml:space="preserve">16431m</text>
<text class="s" transform="translate(831.16 344.10) scale(1.000 1)" font-size="16.59" letter-spacing="0.76" fill="#2288ff" xml:space="preserve">14047m</text>
<text class="s" transform="translate(831.16 432.10) scale(1.000 1)" font-size="16.59" letter-spacing="0.76" fill="#2288ff" xml:space="preserve">12243m</text>
<text class="s" transform="translate(831.16 500.10) scale(1.000 1)" font-size="16.59" letter-spacing="0.76" fill="#2288ff" xml:space="preserve">10756m</text>
<text class="s" transform="translate(841.88 555.10) scale(1.000 1)" font-size="16.59" letter-spacing="0.76" fill="#2288ff" xml:space="preserve">9486m</text>
<text class="s" transform="translate(841.88 710.10) scale(1.000 1)" font-size="16.59" letter-spacing="0.76" fill="#2288ff" xml:space="preserve">5724m</text>
<text class="s" transform="translate(841.88 813.10) scale(1.000 1)" font-size="16.59" letter-spacing="0.76" fill="#2288ff" xml:space="preserve">3090m</text>
<text class="s" transform="translate(841.88 872.10) scale(1.000 1)" font-size="16.59" letter-spacing="0.76" fill="#2288ff" xml:space="preserve">1509m</text>
<text class="s" transform="translate(852.60 897.10) scale(1.000 1)" font-size="16.59" letter-spacing="0.76" fill="#2288ff" xml:space="preserve">815m</text>
<text class="s" transform="translate(852.60 921.10) scale(1.000 1)" font-size="16.59" letter-spacing="0.76" fill="#2288ff" xml:space="preserve">159m</text>
<rect x="1023" y="279.7" width="1" height="1.6" fill="#e22ce2"/>
<rect x="1023" y="339.7" width="1" height="1.6" fill="#e22ce2"/>
<rect x="1023" y="399.7" width="1" height="1.6" fill="#e22ce2"/>
<rect x="1023" y="459.7" width="1" height="1.6" fill="#e22ce2"/>
<rect x="1023" y="519.7" width="1" height="1.6" fill="#e22ce2"/>
<rect x="1023" y="579.7" width="1" height="1.6" fill="#e22ce2"/>
<rect x="1023" y="639.7" width="1" height="1.6" fill="#e22ce2"/>
<rect x="1023" y="699.7" width="1" height="1.6" fill="#e22ce2"/>
<rect x="1023" y="759.7" width="1" height="1.6" fill="#e22ce2"/>
<rect x="1023" y="587.7" width="1" height="1.6" fill="#4444fa"/>
<rect x="1023" y="672.7" width="1" height="1.6" fill="#4444fa"/>
<rect x="1023" y="761.7" width="1" height="1.6" fill="#4444fa"/>
<rect x="1023" y="854.2" width="1" height="1.6" fill="#4444fa"/>
</svg></body></html>
